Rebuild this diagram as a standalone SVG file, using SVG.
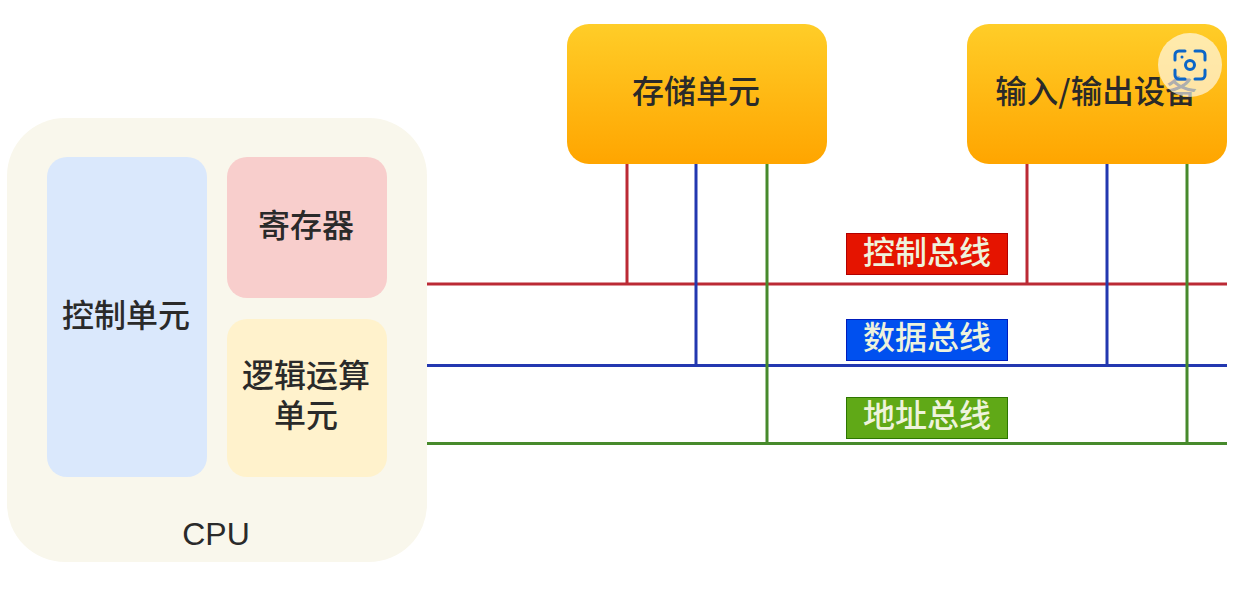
<svg xmlns="http://www.w3.org/2000/svg" width="1259" height="603" viewBox="0 0 1259 603">
<style>
text{font-family:"Noto Sans CJK SC","Liberation Sans",sans-serif;font-size:32px;font-weight:500;fill:#2a2a2a;text-anchor:middle}
.cap{fill:#eef3dc}
.latin{font-family:"Liberation Sans",sans-serif;font-weight:400}
.w{fill:none;stroke-width:3}
.r{stroke:#bb2a35}.b{stroke:#2338b0}.g{stroke:#478a2c}
.tag{stroke-width:1}
</style>
<defs>
<linearGradient id="o" x1="0" y1="0" x2="0" y2="1"><stop offset="0" stop-color="#ffcd28"/><stop offset="1" stop-color="#ffa500"/></linearGradient>
</defs>
<rect width="1259" height="603" fill="#fff"/>
<g id="cpu"><rect x="7" y="118" width="420" height="444" rx="58" fill="#f9f7ec"/><text class="latin" x="216" y="545">CPU</text></g>
<g id="control-unit"><rect x="47" y="157" width="160" height="320" rx="20" fill="#dae8fc"/><text x="126" y="327">控制单元</text></g>
<g id="register"><rect x="227" y="157" width="160" height="141" rx="20" fill="#f8cecc"/><text x="306" y="237">寄存器</text></g>
<g id="alu"><rect x="227" y="319" width="160" height="158" rx="20" fill="#fff2cc"/><text x="306" y="387">逻辑运算</text><text x="306" y="427">单元</text></g>
<g id="connectors">
<path class="w r" d="M427 284H1227M627 163V284M1027 163V284"/>
<path class="w b" d="M427 365.500H1227M696 163V365M1107 163V365"/>
<path class="w g" d="M427 443.500H1227M767 163V443M1187 163V443"/>
</g>
<g id="memory"><rect x="567" y="24" width="260" height="140" rx="22" fill="url(#o)"/><text x="696" y="103">存储单元</text></g>
<g id="io"><rect x="967" y="24" width="260" height="140" rx="22" fill="url(#o)"/><text x="1096" y="103" style="font-size:31.500px">输入/输出设备</text></g>
<g id="control-bus"><rect class="tag" x="846.500" y="233.500" width="161" height="41" fill="#e51400" stroke="#b20000"/><text class="cap" x="927" y="264">控制总线</text></g>
<g id="data-bus"><rect class="tag" x="846.500" y="319.500" width="161" height="41" fill="#0050ef" stroke="#001dbc"/><text class="cap" x="927" y="349">数据总线</text></g>
<g id="address-bus"><rect class="tag" x="846.500" y="397.500" width="161" height="41" fill="#60a917" stroke="#2d7600"/><text class="cap" x="927" y="427">地址总线</text></g>
<g id="lens-icon">
<circle cx="1190" cy="65" r="32" fill="#fff" fill-opacity=".62"/>
<g fill="none" stroke="#0b66c8" stroke-width="3" stroke-linecap="round">
<path d="M1175 60V55a4 4 0 0 1 4-4h6M1195 51h6a4 4 0 0 1 4 4v5M1205 70v5a4 4 0 0 1-4 4h-6M1185 79h-6a4 4 0 0 1-4-4v-5"/>
<circle cx="1190" cy="65" r="4.500"/>
</g>
<circle cx="1182" cy="57" r="1.500" fill="#0b66c8"/>
</g>
</svg>
